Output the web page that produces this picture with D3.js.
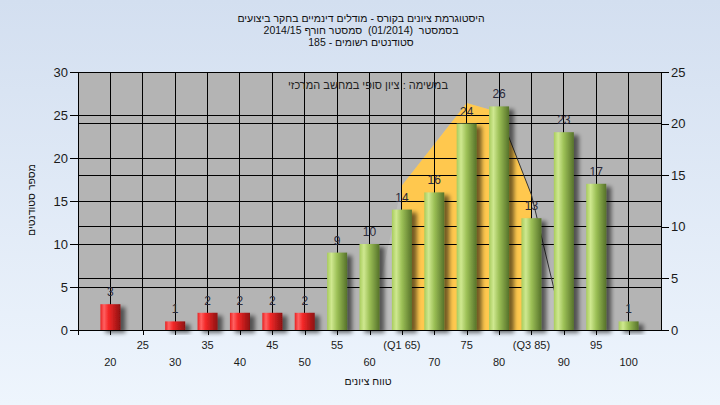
<!DOCTYPE html>
<html><head><meta charset="utf-8">
<script src="https://cdn.jsdelivr.net/npm/d3@7"></script>
<style>
html,body{margin:0;padding:0;}
svg{display:block;font-family:"Liberation Sans",Arial,sans-serif;}
</style></head>
<body>
<svg id="c" width="720" height="405"></svg>
<script>
const categories = [20,25,30,35,40,45,50,55,60,65,70,75,80,85,90,95,100];
const counts     = [3,0,1,2,2,2,2,9,10,14,16,24,26,13,23,17,1];
const tickLabels = ["20","25","30","35","40","45","50","55","60","(Q1 65)","70","75","80","(Q3 85)","90","95","100"];
const failLimit = 50;           // bars <= this are red
const curveX    = [60,65,70,75,80,85,90];
const curveVals = [0,14,18,22,21.1,13.1,0];   // right axis
const q1 = 65, q3 = 85;
const leftTicks  = [0,5,10,15,20,25,30];
const rightTicks = [0,5,10,15,20,25];
const titleLines = [
  "היסטוגרמת ציונים בקורס - מודלים דינמיים בחקר ביצועים",
  "בסמסטר  (01/2014)  סמסטר חורף 2014/15",
  "סטודנטים רשומים - 185"
];
const noteText = "במשימה : ציון סופי במחשב המרכזי";
const yTitle = "מספר סטודנטים";
const xTitle = "טווח ציונים";

const svg = d3.select("#c");
const defs = svg.append("defs");
const bg = defs.append("linearGradient").attr("id","bg").attr("x1",0).attr("y1",0).attr("x2",0).attr("y2",1);
bg.append("stop").attr("offset","0%").attr("stop-color","#d3dff0");
bg.append("stop").attr("offset","100%").attr("stop-color","#eef5fd");
const rg = defs.append("linearGradient").attr("id","red");
[["0%","#e82020"],["18%","#ff6262"],["40%","#f42828"],["100%","#8c1010"]].forEach(s=>rg.append("stop").attr("offset",s[0]).attr("stop-color",s[1]));
const gg = defs.append("linearGradient").attr("id","green");
[["0%","#a8cc5c"],["22%","#cfe890"],["50%","#9cc056"],["100%","#56722a"]].forEach(s=>gg.append("stop").attr("offset",s[0]).attr("stop-color",s[1]));
const f = defs.append("filter").attr("id","sh").attr("x","-50%").attr("y","-50%").attr("width","200%").attr("height","200%");
f.append("feGaussianBlur").attr("in","SourceAlpha").attr("stdDeviation",2.2).attr("result","b");
f.append("feOffset").attr("in","b").attr("dx",5).attr("dy",3).attr("result","o");
f.append("feComponentTransfer").attr("in","o").attr("result","o2").append("feFuncA").attr("type","linear").attr("slope",0.55);
const m = f.append("feMerge"); m.append("feMergeNode").attr("in","o2"); m.append("feMergeNode").attr("in","SourceGraphic");

svg.append("rect").attr("width",720).attr("height",405).attr("fill","url(#bg)");

const L=78, R=661, T=72, B=330;
const x = d3.scaleLinear().domain([15,105]).range([L,R]);
const yL = d3.scaleLinear().domain([0,30]).range([B,T]);
const yR = d3.scaleLinear().domain([0,25]).range([B,T]);

svg.append("rect").attr("x",L).attr("y",T).attr("width",R-L).attr("height",B-T).attr("fill","#b4b4b4");

// curve area
const area = d3.area().x((d,i)=>x(curveX[i])).y0(B).y1(d=>yR(d));
defs.append("clipPath").attr("id","qc").append("rect").attr("x",x(q1)).attr("y",T).attr("width",x(q3)-x(q1)).attr("height",B-T);
svg.append("path").datum(curveVals).attr("d",area).attr("fill","#bebebe");
svg.append("path").datum(curveVals).attr("d",area).attr("fill","#ffc84e").attr("clip-path","url(#qc)");

// grid
const g = svg.append("g").attr("stroke","#000").attr("stroke-width",1).attr("shape-rendering","crispEdges");
leftTicks.forEach(v=>g.append("line").attr("x1",L).attr("x2",R).attr("y1",yL(v)).attr("y2",yL(v)));
rightTicks.forEach(v=>g.append("line").attr("x1",L).attr("x2",R).attr("y1",yR(v)).attr("y2",yR(v)));
categories.forEach(c=>g.append("line").attr("x1",x(c)).attr("x2",x(c)).attr("y1",T).attr("y2",B));

// curve line (right tail)
const idx80 = curveX.indexOf(80);
svg.append("path").datum(curveVals.slice(idx80)).attr("d",d3.line().x((d,i)=>x(curveX[i+idx80])).y(d=>yR(d)))
  .attr("fill","none").attr("stroke","#333").attr("stroke-width",1);

// bars
const bw = 20;
svg.append("g").selectAll("rect").data(categories).join("rect")
  .filter((d,i)=>counts[i]>0)
  .attr("x",d=>x(d)-bw/2).attr("width",bw)
  .attr("y",(d)=>yL(counts[categories.indexOf(d)]))
  .attr("height",d=>B-yL(counts[categories.indexOf(d)]))
  .attr("fill",d=>d<=failLimit?"url(#red)":"url(#green)")
  .attr("filter","url(#sh)");

// value labels
svg.append("g").selectAll("text").data(categories).join("text")
  .filter((d,i)=>counts[i]>0)
  .attr("x",d=>x(d)).attr("y",d=>yL(counts[categories.indexOf(d)])-8)
  .attr("text-anchor","middle").attr("font-size",12).attr("fill","#2a2a3a")
  .text(d=>counts[categories.indexOf(d)]);

// axes
const axL = svg.append("g").attr("transform",`translate(${L},0)`)
  .call(d3.axisLeft(yL).tickValues(leftTicks).tickSize(8).tickPadding(2).tickSizeOuter(0));
const axR = svg.append("g").attr("transform",`translate(${R},0)`)
  .call(d3.axisRight(yR).tickValues(rightTicks).tickSize(8).tickPadding(2).tickSizeOuter(0));
const axB = svg.append("g").attr("transform",`translate(0,${B})`)
  .call(d3.axisBottom(x).tickValues([15].concat(categories)).tickSize(5).tickFormat("").tickSizeOuter(0));
[axL,axR,axB].forEach(a=>{
  a.selectAll("path,line").attr("stroke","#000").attr("shape-rendering","crispEdges");
  a.selectAll("text").attr("font-size",13).attr("fill","#1a1a1a").attr("font-family","Liberation Sans, Arial, sans-serif");
});

// x tick labels in two rows
svg.append("g").selectAll("text").data(categories).join("text")
  .attr("x",d=>x(d)).attr("y",(d,i)=>i%2===1?349:366)
  .attr("text-anchor","middle").attr("font-size",11).attr("fill","#1a1a1a")
  .text((d,i)=>tickLabels[i]);

// titles
svg.append("g").selectAll("text").data(titleLines).join("text")
  .attr("x",361).attr("y",(d,i)=>22+i*12).attr("text-anchor","middle")
  .attr("direction","rtl").attr("font-size",10.5).attr("fill","#111")
  .style("white-space","pre")
  .text(d=>d);
svg.append("text").attr("x",368).attr("y",89).attr("text-anchor","middle").attr("direction","rtl")
  .attr("font-size",11).attr("fill","#222").text(noteText);
svg.append("text").attr("transform","translate(35,200) rotate(-90)").attr("text-anchor","middle").attr("direction","rtl")
  .attr("font-size",10.5).attr("fill","#111").text(yTitle);
svg.append("text").attr("x",368).attr("y",385).attr("text-anchor","middle").attr("direction","rtl")
  .attr("font-size",10.5).attr("fill","#111").text(xTitle);
</script>
</body></html>
